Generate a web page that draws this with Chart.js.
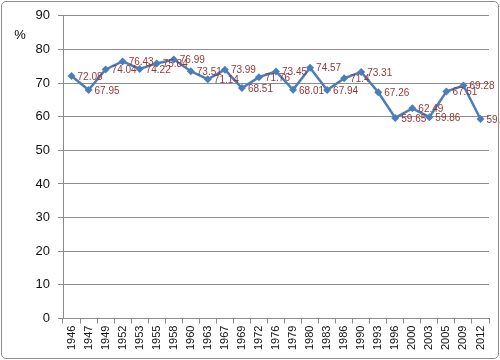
<!DOCTYPE html>
<html>
<head>
<meta charset="utf-8">
<script src="https://cdn.jsdelivr.net/npm/chart.js@4"></script>
<style>
  html, body { margin: 0; padding: 0; background: #fff; }
  .wrap { position: relative; width: 500px; height: 360px; }
  .frame { position: absolute; left: 1px; top: 1px; right: 1px; bottom: 1px;
    border: 1px solid #8c8c8c; border-radius: 5px; pointer-events: none; }
</style>
</head>
<body>
<div class="wrap">
  <canvas id="c" width="500" height="360"></canvas>
  <div class="frame"></div>
</div>
<script>
// Lata wyborów i frekwencja (%)
const years = ["1946", "1947", "1949", "1952", "1953", "1955", "1958", "1960", "1963",
  "1967", "1969", "1972", "1976", "1979", "1980", "1983", "1986", "1990", "1993",
  "1996", "2000", "2003", "2005", "2009", "2012"];
const turnout = [72.08, 67.95, 74.04, 76.43, 74.22, 75.84, 76.99, 73.51, 71.14,
  73.99, 68.51, 71.76, 73.45, 68.01, 74.57, 67.94, 71.4, 73.31, 67.26,
  59.65, 62.49, 59.86, 67.51, 69.28, 59.32];
const yTicks = [0, 10, 20, 30, 40, 50, 60, 70, 80, 90];

const FONT = "'Liberation Sans', Arial, sans-serif";
const BLUE = "#4a7ebb";
const AXIS = "#8c8c8c";

// etykiety wartości obok punktów + znak "%" przy osi
const labelsPlugin = {
  id: "pointLabels",
  afterDatasetsDraw(chart) {
    const ctx = chart.ctx;
    const meta = chart.getDatasetMeta(0);
    ctx.save();
    ctx.font = "10px " + FONT;
    ctx.fillStyle = "#953735";
    ctx.textAlign = "left";
    ctx.textBaseline = "middle";
    meta.data.forEach((pt, i) => {
      ctx.fillText(String(turnout[i]), pt.x + 6, pt.y + 1);
    });
    ctx.fillStyle = "#000";
    ctx.font = "13px " + FONT;
    ctx.textAlign = "center";
    ctx.fillText("%", 20, 35);
    ctx.restore();
  },
};

new Chart(document.getElementById("c"), {
  type: "line",
  data: {
    labels: years,
    datasets: [{
      data: turnout,
      borderColor: BLUE, backgroundColor: BLUE, borderWidth: 2.5, tension: 0,
      pointStyle: "rectRot", pointRadius: 4, pointBackgroundColor: BLUE,
      pointBorderColor: BLUE, pointBorderWidth: 0,
    }],
  },
  options: {
    responsive: false, animation: false,
    layout: { padding: { top: 15, right: 11, left: 0, bottom: 8 } },
    plugins: { legend: { display: false }, tooltip: { enabled: false } },
    scales: {
      y: {
        min: 0, max: 90,
        afterBuildTicks: (s) => { s.ticks = yTicks.map((v) => ({ value: v })); },
        afterFit: (s) => { s.width = 63; },
        border: { color: AXIS },
        grid: { color: AXIS, tickLength: 5 },
        ticks: { font: { family: FONT, size: 13 }, color: "#111", padding: 8 },
      },
      x: {
        offset: true,
        border: { color: AXIS },
        grid: { offset: true, drawOnChartArea: false, color: AXIS, tickLength: 5 },
        ticks: { font: { family: FONT, size: 11 }, color: "#111", autoSkip: false,
          minRotation: 90, maxRotation: 90, padding: 2 },
      },
    },
  },
  plugins: [labelsPlugin],
});
</script>
</body>
</html>
